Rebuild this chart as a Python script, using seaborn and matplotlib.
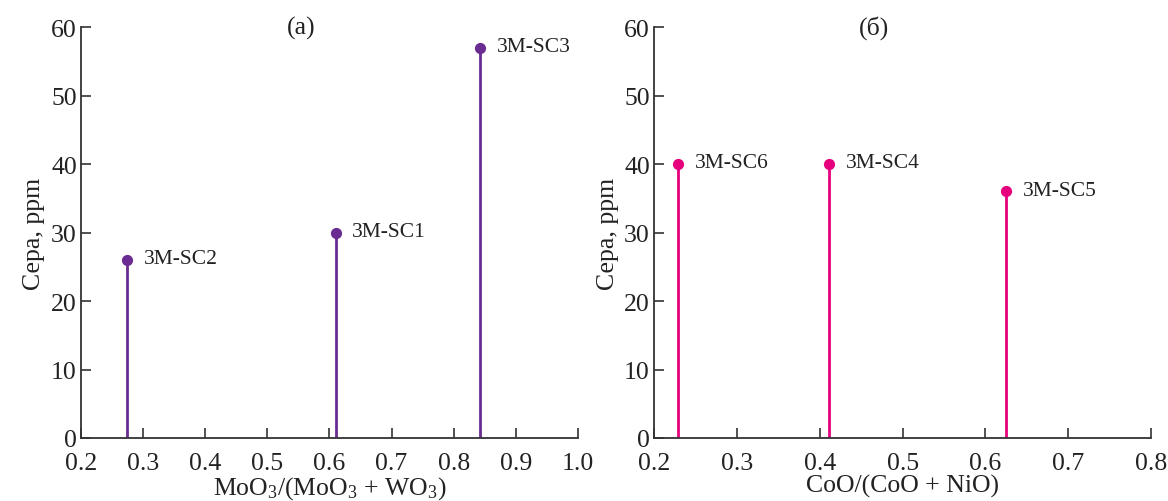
import matplotlib
matplotlib.use("Agg")
from matplotlib import pyplot as plt
import seaborn as sns
import pandas as pd

# panel (a): MoO3/(MoO3 + WO3)
mo_ratio = [0.274, 0.610, 0.843]
mo_sulfur = [26, 30, 57]
mo_names = ["3M-SC2", "3M-SC1", "3M-SC3"]

# panel (б): CoO/(CoO + NiO)
co_ratio = [0.229, 0.411, 0.625]
co_sulfur = [40, 40, 36]
co_names = ["3M-SC6", "3M-SC4", "3M-SC5"]

x_ticks_a = [0.2, 0.3, 0.4, 0.5, 0.6, 0.7, 0.8, 0.9, 1.0]
x_ticks_b = [0.2, 0.3, 0.4, 0.5, 0.6, 0.7, 0.8]
y_ticks = [0, 10, 20, 30, 40, 50, 60]

sns.set_style("ticks")
plt.rcParams['font.family'] = ['Liberation Serif', 'DejaVu Serif']
plt.rcParams['mathtext.fontset'] = 'custom'
plt.rcParams['mathtext.rm'] = 'Liberation Serif'
plt.rcParams['mathtext.it'] = 'Liberation Serif:italic'

fig = plt.figure(figsize=(11.68, 5.02), dpi=100)
ax_a = fig.add_axes([0.0693, 0.1255, 0.4255, 0.8187])
ax_b = fig.add_axes([0.56, 0.1255, 0.4255, 0.8187])

panels = [
    (ax_a, mo_ratio, mo_sulfur, mo_names, "#6a2c91", x_ticks_a, "(a)",
     r"MoO$_3$/(MoO$_3$ + WO$_3$)"),
    (ax_b, co_ratio, co_sulfur, co_names, "#e6007e", x_ticks_b, "(б)",
     "CoO/(CoO + NiO)"),
]

for ax, xs, ys, names, color, xt, tag, xlabel in panels:
    df = pd.DataFrame({"x": xs, "y": ys, "name": names})
    ax.vlines(df["x"], 0, df["y"], color=color, linewidth=2.0, zorder=2)
    sns.scatterplot(data=df, x="x", y="y", ax=ax, color=color, s=65,
                    edgecolor=color, linewidth=0, zorder=3)
    for _, row in df.iterrows():
        ax.annotate(row["name"], (row["x"], row["y"]), xytext=(12, 1),
                    textcoords="offset points", va="center", ha="left",
                    fontsize=15.5, color="#222222")
    ax.set_xlim(xt[0], xt[-1])
    ax.set_ylim(0, 60)
    ax.set_xticks(xt)
    ax.set_xticklabels([f"{v:.1f}" for v in xt])
    ax.set_yticks(y_ticks)
    ax.tick_params(direction="in", length=7, width=1.2, labelsize=18.5,
                   colors="#333333", labelcolor="#222222")
    ax.tick_params(axis="x", pad=10)
    ax.tick_params(axis="y", pad=3)
    for sp in ["left", "bottom"]:
        ax.spines[sp].set_color("#333333")
        ax.spines[sp].set_linewidth(1.3)
    sns.despine(ax=ax)
    ax.set_xlabel(xlabel, fontsize=18.5, color="#222222", labelpad=0)
    ax.set_ylabel("Сера, ppm", fontsize=18.5, color="#222222", labelpad=4)
    ax.text(0.443, 1.0, tag, transform=ax.transAxes, ha="center",
            va="center", fontsize=18.5, color="#222222")

fig.savefig("out.png", dpi=100)
